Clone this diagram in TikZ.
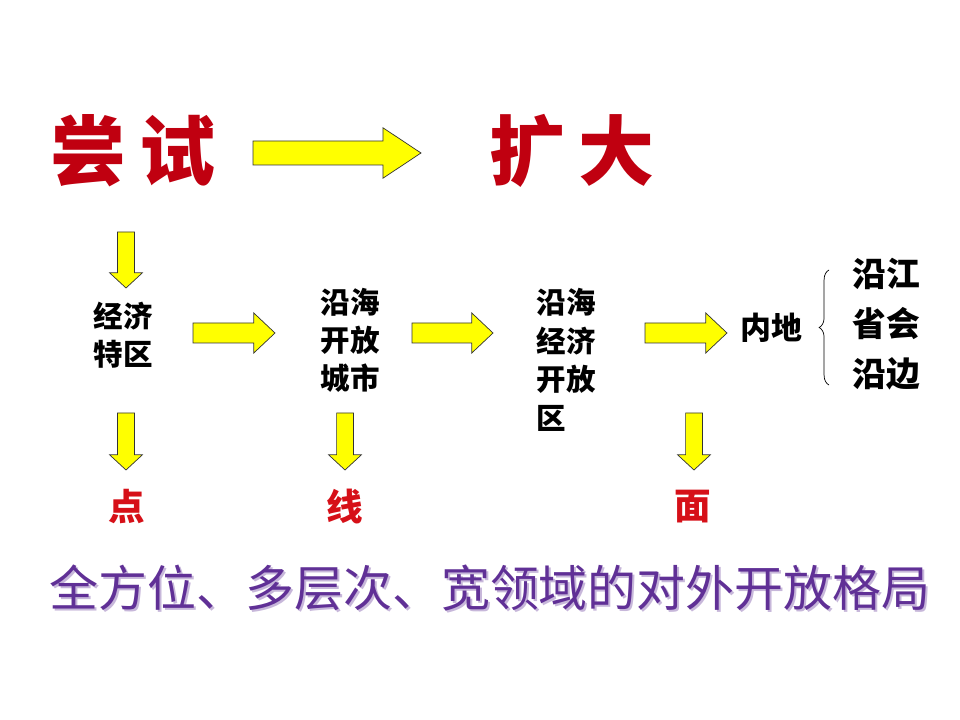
\documentclass[tikz,border=0pt]{standalone}
\usepackage{fontspec}
\newfontfamily\cjk{Noto Sans CJK SC}
\usetikzlibrary{calc,decorations.pathreplacing}
\definecolor{titlered}{RGB}{192,0,16}
\definecolor{markred}{RGB}{214,16,24}
\definecolor{slogan}{RGB}{96,48,150}
\definecolor{arrowfill}{RGB}{255,255,0}
\tikzset{
  fatarrow/.style n args={3}{draw=black!80, fill=arrowfill, line width=0.5pt,
    to path={let \p1=($(\tikztotarget)!#3!(\tikztostart)$) in
      ($(\tikztostart)!#1!90:(\tikztotarget)$)
      -- ($(\p1)!#1!90:(\tikztotarget)$)
      -- ($(\p1)!#2!90:(\tikztotarget)$)
      -- (\tikztotarget)
      -- ($(\p1)!#2!-90:(\tikztotarget)$)
      -- ($(\p1)!#1!-90:(\tikztotarget)$)
      -- ($(\tikztostart)!#1!-90:(\tikztotarget)$) -- cycle}},
  smallarrow/.style={fatarrow={0.25cm}{0.5cm}{0.53cm}},
  downarrow/.style={fatarrow={0.21cm}{0.41cm}{0.38cm}},
  title/.style={text=titlered, font={\cjk\bfseries\fontsize{54}{60}\selectfont}},
  term/.style={font={\cjk\bfseries\fontsize{21}{27}\selectfont}, inner sep=0pt},
  stage/.style={text=markred, font={\cjk\bfseries\fontsize{26}{28}\selectfont}, inner sep=0pt},
}
\begin{document}
\begin{tikzpicture}[x=0.025cm, y=-0.025cm]
  \useasboundingbox[fill=white] (0,0) rectangle (960,720);

  % Titel oben
  \node[title] (try) at (133,151) {尝\hspace{9pt}试};
  \node[title] (expand) at (572,151) {扩\hspace{9pt}大};

  % Stufen
  \node[term, align=center] (sez) at (123,335) {经济\\特区};
  \node[term, align=center] (city) at (350,340) {沿海\\开放\\城市};
  \node[term, align=left, font={\cjk\bfseries\fontsize{21}{27.5}\selectfont}] (zone) at (566,360) {沿海\\经济\\开放\\区};
  \node[term, font={\cjk\bfseries\fontsize{22}{27}\selectfont}] (inland) at (771,328) {内地};
  \node[term, align=left, font={\cjk\bfseries\fontsize{24}{35.5}\selectfont}] (border) at (886,324) {沿江\\省会\\沿边};

  % Punkt, Linie, Fläche
  \node[stage] (dot) at (127,507) {点};
  \node[stage] (line) at (345,507) {线};
  \node[stage] (area) at (693,507) {面};

  % Pfeile
  \coordinate (t0) at (253,153);
  \coordinate (t1) at (421,153);
  \draw[fatarrow={0.3cm}{0.63cm}{0.95cm}] (t0) to (t1);
  \coordinate (d0) at (126,232);
  \coordinate (d1) at (126,288);
  \draw[downarrow] (d0) to (d1);
  \coordinate (h1) at (193,333);
  \coordinate (h2) at (275,333);
  \draw[smallarrow] (h1) to (h2);
  \coordinate (h3) at (412,333);
  \coordinate (h4) at (493,333);
  \draw[smallarrow] (h3) to (h4);
  \coordinate (h5) at (645,333);
  \coordinate (h6) at (727,333);
  \draw[smallarrow] (h5) to (h6);
  \foreach \name/\xx in {dot/126, line/345, area/694}{
    \coordinate (\name-top) at (\xx,413);
    \coordinate (\name-tip) at (\xx,470);
    \draw[downarrow] (\name-top) to (\name-tip);
  }

  % Klammer
  \coordinate (br0) at (829,385);
  \coordinate (br1) at (829,270);
  \draw[decorate, decoration={brace, amplitude=7pt}, line width=0.5pt] (br0) -- (br1);

  % Schluss
  \node[text=slogan!35, font={\cjk\fontsize{34.8}{36}\selectfont}] at (492,590) {全方位、多层次、宽领域的对外开放格局};
  \node[text=slogan, font={\cjk\fontsize{34.8}{36}\selectfont}] (goal) at (490,588) {全方位、多层次、宽领域的对外开放格局};
\end{tikzpicture}
\end{document}
